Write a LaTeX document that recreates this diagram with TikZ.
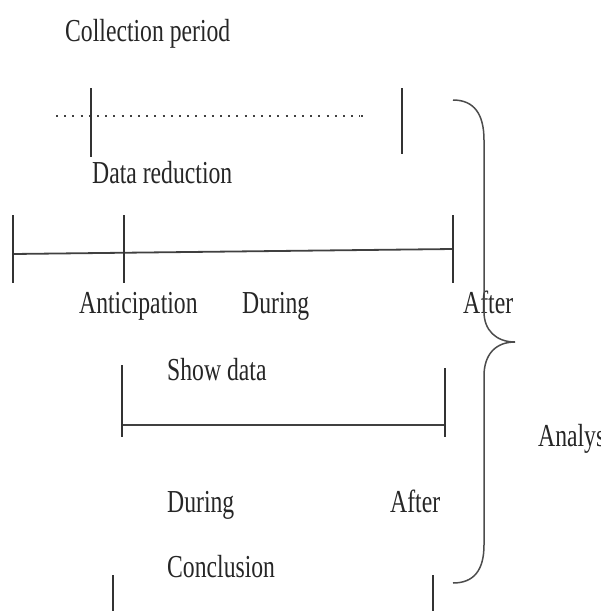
\documentclass[tikz,border=0pt]{standalone}
\usepackage{fontspec}
\setmainfont{Liberation Serif}
\newcommand{\sqz}[1]{\scalebox{0.74}[1]{#1}}
\begin{document}
\begin{tikzpicture}[x=1pt,y=-1pt,
  lbl/.style={anchor=base west, inner sep=0pt, text=black!85, font=\fontsize{32}{36}\selectfont},
  tickline/.style={draw=black!80, line width=1.2pt},
  mainline/.style={draw=black!75, line width=1.8pt},
  dotline/.style={draw=black!75, line width=2pt, dash pattern=on 2pt off 6.2pt},
  bracestyle/.style={draw=black!70, line width=1.5pt}]
\useasboundingbox (0,0) rectangle (601,611);
\begin{scope}
\clip (0,0) rectangle (601,611);
% labels
\node[lbl] (collection) at (65,41) {\sqz{Collection period}};
\node[lbl] (reduction) at (92,183) {\sqz{Data reduction}};
\node[lbl] (anticip) at (79,313) {\sqz{Anticipation}};
\node[lbl] (during1) at (242,313) {\sqz{During}};
\node[lbl] (after1) at (463,313) {\sqz{After}};
\node[lbl] (show) at (167,380) {\sqz{Show data}};
\node[lbl] (analysis) at (538,446) {\sqz{Analysis}};
\node[lbl] (during2) at (167,512) {\sqz{During}};
\node[lbl] (after2) at (390,512) {\sqz{After}};
\node[lbl] (concl) at (167,577) {\sqz{Conclusion}};
% collection period line
\coordinate (d1) at (56,116);
\coordinate (d2) at (360,116);
\coordinate (d3) at (361,116);
\coordinate (d4) at (363,116);
\draw[dotline] (d1) -- (d2);
\draw[dotline, dash pattern=] (d3) -- (d4);
\coordinate (t1a) at (91,88);  \coordinate (t1b) at (91,157);
\coordinate (t2a) at (402,88); \coordinate (t2b) at (402,154);
\draw[tickline] (t1a) -- (t1b);
\draw[tickline] (t2a) -- (t2b);
% data reduction line
\coordinate (r1) at (13,254);
\coordinate (r2) at (453,249);
\draw[mainline] (r1) -- (r2);
\coordinate (ra1) at (13,215);  \coordinate (rb1) at (13,283);
\coordinate (ra2) at (124,215); \coordinate (rb2) at (124,283);
\coordinate (ra3) at (453,215); \coordinate (rb3) at (453,283);
\draw[tickline] (ra1) -- (rb1);
\draw[tickline] (ra2) -- (rb2);
\draw[tickline] (ra3) -- (rb3);
% show data line
\coordinate (s1) at (122,425);
\coordinate (s2) at (445,425);
\draw[mainline, line width=1.5pt] (s1) -- (s2);
\coordinate (sa1) at (122,365); \coordinate (sb1) at (122,437);
\coordinate (sa2) at (445,368); \coordinate (sb2) at (445,437);
\draw[tickline] (sa1) -- (sb1);
\draw[tickline] (sa2) -- (sb2);
% conclusion ticks
\coordinate (ca1) at (113,575); \coordinate (cb1) at (113,611);
\coordinate (ca2) at (433,575); \coordinate (cb2) at (433,611);
\draw[tickline] (ca1) -- (cb1);
\draw[tickline] (ca2) -- (cb2);
% brace
\coordinate (btop) at (453,100);
\coordinate (btip) at (515,342);
\coordinate (bbot) at (453,583);
\draw[bracestyle] (btop) .. controls (474,100) and (484,114) .. (484,140)
  -- (484,312) .. controls (484,330) and (496,342) .. (btip)
  .. controls (496,342) and (484,354) .. (484,376)
  -- (484,545) .. controls (484,570) and (474,583) .. (bbot);
\end{scope}
\end{tikzpicture}
\end{document}
